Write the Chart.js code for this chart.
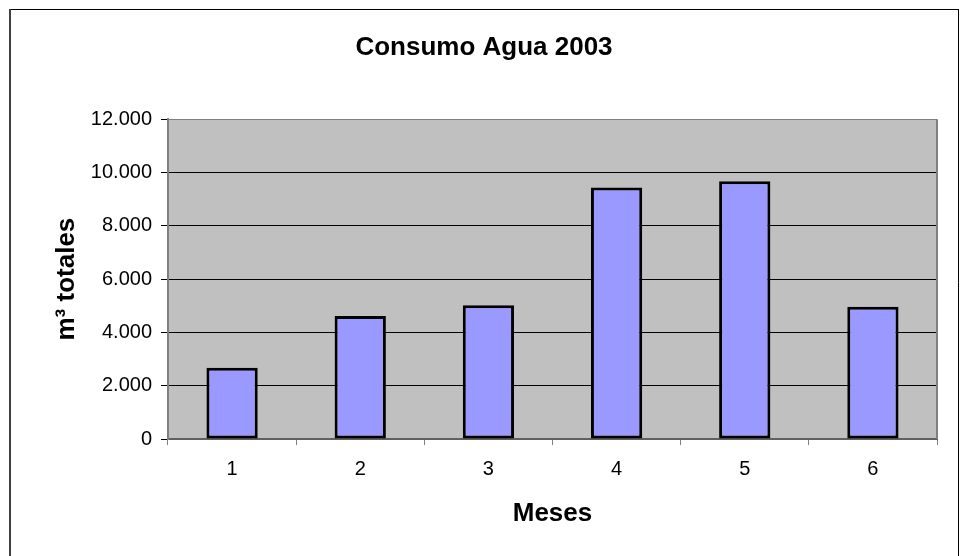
<!DOCTYPE html>
<html>
<head>
<meta charset="utf-8">
<script src="https://cdn.jsdelivr.net/npm/chart.js@4"></script>
<style>
  body { margin: 0; background: #fff; }
  canvas { display: block; }
</style>
</head>
<body>
<canvas id="chart1" width="960" height="556"></canvas>
<script>
const meses = ['1', '2', '3', '4', '5', '6'];
const consumo = [2670, 4620, 5020, 9440, 9670, 4960];
const yMin = 0;
const yMax = 12000;
const yStep = 2000;

const fuente = "'Liberation Sans', Arial, sans-serif";

function miles(v) {
    return String(v).replace(/\B(?=(\d{3})+(?!\d))/g, '.');
}

// fondo blanco, area gris y marcos
const marcos = {
    id: 'marcos',
    beforeDraw(chart) {
        const ctx = chart.ctx;
        const a = chart.chartArea;
        ctx.save();
        ctx.fillStyle = '#fff';
        ctx.fillRect(0, 0, chart.width, chart.height);
        ctx.fillStyle = '#c0c0c0';
        ctx.fillRect(a.left, a.top, a.right - a.left, a.bottom - a.top);
        ctx.restore();
    },
    afterDraw(chart) {
        const ctx = chart.ctx;
        const a = chart.chartArea;
        ctx.save();
        ctx.strokeStyle = '#808080';
        ctx.lineWidth = 2;
        ctx.beginPath();
        ctx.moveTo(a.right, a.top);
        ctx.lineTo(a.right, a.bottom);
        ctx.stroke();
        // borde exterior
        ctx.lineWidth = 1;
        ctx.strokeStyle = '#000';
        ctx.beginPath();
        ctx.moveTo(9, 9.5);
        ctx.lineTo(959, 9.5);
        ctx.moveTo(958.5, 9);
        ctx.lineTo(958.5, chart.height);
        ctx.stroke();
        ctx.lineWidth = 2;
        ctx.strokeStyle = '#404040';
        ctx.beginPath();
        ctx.moveTo(10, 9);
        ctx.lineTo(10, chart.height);
        ctx.stroke();
        ctx.restore();
    }
};

const chart1 = document.getElementById('chart1');
const myChart = new Chart(chart1, {
    type: 'bar',
    data: {
        labels: meses,
        datasets: [{
            label: 'Consumo',
            data: consumo,
            backgroundColor: '#9999ff',
            borderColor: '#000',
            borderWidth: 3,
            borderSkipped: false,
            barPercentage: 0.4,
            categoryPercentage: 1.0
        }]
    },
    options: {
        responsive: false,
        animation: false,
        layout: {
            padding: { left: 31, right: 23, top: 10, bottom: 10 }
        },
        plugins: {
            legend: { display: false },
            tooltip: { enabled: false },
            title: {
                display: true,
                text: 'Consumo Agua 2003',
                color: '#000',
                font: { family: fuente, size: 26, weight: 'bold' },
                padding: { top: 22, bottom: 56 }
            }
        },
        scales: {
            x: {
                grid: {
                    offset: true,
                    drawOnChartArea: false,
                    color: '#808080',
                    tickLength: 6
                },
                border: { color: '#606060', width: 2 },
                ticks: {
                    color: '#000',
                    padding: 12,
                    font: { family: fuente, size: 20 }
                },
                title: {
                    display: true,
                    text: 'Meses',
                    color: '#000',
                    font: { family: fuente, size: 26, weight: 'bold' },
                    padding: { top: 0, bottom: 17 }
                },
                afterFit(scale) { scale.height = 107; }
            },
            y: {
                min: yMin,
                max: yMax,
                grid: {
                    color: ctx => (ctx.tick && ctx.tick.value === yMax) ? '#808080' : '#000',
                    tickColor: '#000',
                    tickLength: 7
                },
                border: { color: '#808080', width: 2 },
                ticks: {
                    stepSize: yStep,
                    color: '#000',
                    padding: 9,
                    font: { family: fuente, size: 20 },
                    callback: v => miles(v)
                },
                title: {
                    display: true,
                    text: 'm³ totales',
                    color: '#000',
                    font: { family: fuente, size: 26, weight: 'bold' },
                    padding: { top: 20, bottom: 0 }
                },
                afterFit(scale) { scale.width = 137; }
            }
        }
    },
    plugins: [marcos]
});
</script>
</body>
</html>
